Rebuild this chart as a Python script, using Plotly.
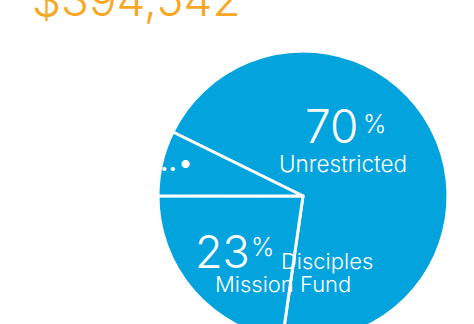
import plotly.graph_objects as go

# ---- data ----
categories = ["Unrestricted", "Disciples Mission Fund", "Other"]
shares = [70.0, 22.75, 7.25]
pct_labels = ["70", "23", ""]
name_labels = ["Unrestricted", "Disciples<br>Mission Fund", ""]
total_label = "$394,542"

W, H = 474, 360
BLUE = "#03A3DD"
ORANGE = "#F7A823"
FONT = "Inter"

def px(x):
    return x / W

def py(y):
    return 1 - y / H

cx, cy, r = 303, 196, 145

fig = go.Figure()
fig.add_trace(go.Pie(
    labels=categories,
    values=shares,
    sort=False,
    direction="clockwise",
    rotation=-63.8,
    marker=dict(colors=[BLUE] * 3, line=dict(color="white", width=3)),
    textinfo="none",
    hoverinfo="skip",
    showlegend=False,
    domain=dict(x=[px(cx - r), px(cx + r)], y=[py(cy + r), py(cy - r)]),
))

ann = []
def text(t, x, y, size, xa="center", ya="middle", color="white", pad=1):
    ann.append(dict(text=t, x=px(x), y=py(y), xref="paper", yref="paper",
                    xanchor=xa, yanchor=ya, showarrow=False, borderpad=pad,
                    font=dict(family=FONT, size=size, color=color, weight=300)))

text(total_label, 30, -1, 46, xa="left", color=ORANGE)
text(pct_labels[0], 331, 126, 46, pad=0)
text("%", 374, 124, 25)
text(name_labels[0], 343, 164, 22.5, pad=0)
text(pct_labels[1], 222, 251, 45)
text("%", 262, 247, 25)
text("Disciples", 327, 261, 22)
text("Mission Fund", 283, 284, 22)
text("<span style='font-size:15px'>••</span>•", 177, 162, 30)

fig.update_layout(
    width=W, height=H,
    margin=dict(l=0, r=0, t=0, b=0),
    paper_bgcolor="white", plot_bgcolor="white",
    annotations=ann,
)

fig.write_html("out.html", post_script="document.documentElement.style.overflow='hidden';document.body.style.overflow='hidden';")
